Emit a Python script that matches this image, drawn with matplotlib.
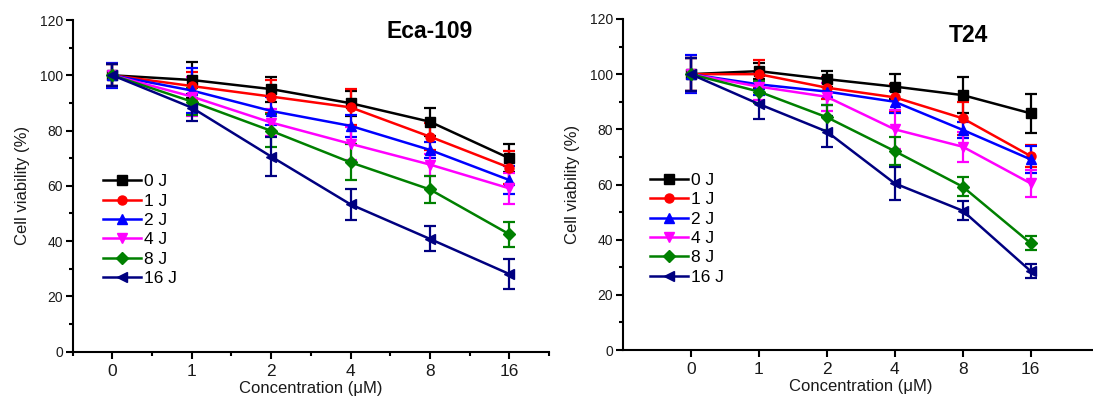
import matplotlib
matplotlib.use("Agg")
import matplotlib.pyplot as plt
from matplotlib.ticker import MultipleLocator, FixedLocator
from matplotlib.lines import Line2D

plt.rcParams['font.family'] = ['Liberation Sans', 'DejaVu Sans']

concentrations = ["0", "1", "2", "4", "8", "16"]
series_labels = ["0 J", "1 J", "2 J", "4 J", "8 J", "16 J"]
colors = ["#000000", "#ff0000", "#0000ff", "#ff00ff", "#008000", "#000080"]
markers = ["s", "o", "^", "v", "D", "<"]

# Eca-109
eca_0J = [100, 98.3, 95.0, 89.9, 83.2, 70.0]
eca_1J = [100, 96.1, 92.3, 88.4, 77.8, 66.6]
eca_2J = [100, 94.5, 87.1, 81.7, 73.0, 62.1]
eca_4J = [100, 92.3, 82.9, 75.2, 67.7, 59.1]
eca_8J = [100, 90.5, 79.9, 68.5, 58.7, 42.5]
eca_16J = [100, 88.3, 70.6, 53.3, 40.8, 28.1]
eca_err_0J = [4, 6.5, 4.5, 4.5, 5, 5]
eca_err_1J = [4, 5, 6, 6.5, 5, 6]
eca_err_2J = [4.5, 8, 5, 4, 3, 5]
eca_err_4J = [4, 7, 5, 6, 4, 5.5]
eca_err_8J = [4, 5, 6, 6.5, 5, 4.5]
eca_err_16J = [4, 5, 7, 5.5, 4.5, 5.5]

# T24
t24_0J = [100, 101.1, 98.2, 95.5, 92.4, 85.8]
t24_1J = [100, 100.0, 95.1, 91.6, 84.0, 70.3]
t24_2J = [100, 96.3, 93.7, 90.0, 79.8, 69.1]
t24_4J = [100, 95.5, 91.8, 80.0, 73.7, 60.4]
t24_8J = [100, 93.7, 84.4, 72.1, 59.2, 38.7]
t24_16J = [100, 89.2, 79.2, 60.4, 50.5, 28.6]
t24_err_0J = [6, 3, 3, 4.5, 6.5, 7]
t24_err_1J = [6, 5, 4, 5, 6, 4]
t24_err_2J = [7, 4, 5, 4, 3, 5]
t24_err_4J = [6, 5, 5, 7, 5.5, 5]
t24_err_8J = [6, 4, 4.5, 5, 3.5, 2.5]
t24_err_16J = [6, 5.5, 5.5, 6, 3.5, 2.5]

eca_values = [eca_0J, eca_1J, eca_2J, eca_4J, eca_8J, eca_16J]
eca_errors = [eca_err_0J, eca_err_1J, eca_err_2J, eca_err_4J, eca_err_8J, eca_err_16J]
t24_values = [t24_0J, t24_1J, t24_2J, t24_4J, t24_8J, t24_16J]
t24_errors = [t24_err_0J, t24_err_1J, t24_err_2J, t24_err_4J, t24_err_8J, t24_err_16J]

W, H = 1093, 398
fig = plt.figure(figsize=(W / 100, H / 100), dpi=100)

ax1 = fig.add_axes([72.7 / W, 1 - 351.7 / H, (549 - 72.7) / W, (351.7 - 20) / H])
ax2 = fig.add_axes([622.7 / W, 1 - 350 / H, 476 / W, (350 - 19) / H])

x = list(range(len(concentrations)))
TXT = '#1a1a1a'


def draw(ax, values, errors, title, title_xy, xlim, minor_x, leg_anchor):
    handles = []
    for vals, errs, lab, c, m in zip(values, errors, series_labels, colors, markers):
        ax.errorbar(x, vals, yerr=errs, color=c, marker=m, markersize=6.5,
                    linewidth=1.8, elinewidth=1.6, capsize=4, capthick=1.6,
                    clip_on=False)
        handles.append(Line2D([], [], color=c, marker=m, markersize=6.5,
                              linewidth=1.8, label=lab))
    ax.set_xlim(*xlim)
    ax.set_ylim(0, 120)
    ax.set_xticks(x)
    ax.set_xticklabels(concentrations)
    if minor_x:
        ax.xaxis.set_minor_locator(FixedLocator([i + 0.5 for i in range(-1, 6)]))
    ax.yaxis.set_major_locator(MultipleLocator(20))
    ax.yaxis.set_minor_locator(MultipleLocator(10))
    for s in ['top', 'right']:
        ax.spines[s].set_visible(False)
    for s in ['left', 'bottom']:
        ax.spines[s].set_linewidth(1.5)
    ax.tick_params(which='major', direction='out', length=5, width=1.5, labelcolor=TXT)
    ax.tick_params(which='minor', direction='out', length=3, width=1.5)
    ax.tick_params(axis='x', which='major', labelsize=12.5, pad=4)
    ax.tick_params(axis='y', which='major', labelsize=10, pad=2)
    ax.set_xlabel("Concentration (μM)", fontsize=12, labelpad=1, color=TXT)
    ax.set_ylabel("Cell viability (%)", fontsize=12, labelpad=7, color=TXT)
    ax.text(title_xy[0], title_xy[1], title, transform=fig.transFigure,
            fontsize=16.5, fontweight='bold', ha='center', va='center')
    ax.legend(handles=handles, loc='upper left', bbox_to_anchor=leg_anchor,
              frameon=False, fontsize=12.5, handlelength=2.2, handletextpad=0.15,
              labelspacing=0.24, borderaxespad=0, borderpad=0)


draw(ax1, eca_values, eca_errors, "Eca-109", (430 / W, 1 - 31 / H), (-0.5, 5.5), True,
     (0.064, 0.535))
draw(ax2, t24_values, t24_errors, "T24", (968 / W, 1 - 35 / H), (-1, 6), False,
     (0.057, 0.535))

fig.savefig("out.png", dpi=100)
